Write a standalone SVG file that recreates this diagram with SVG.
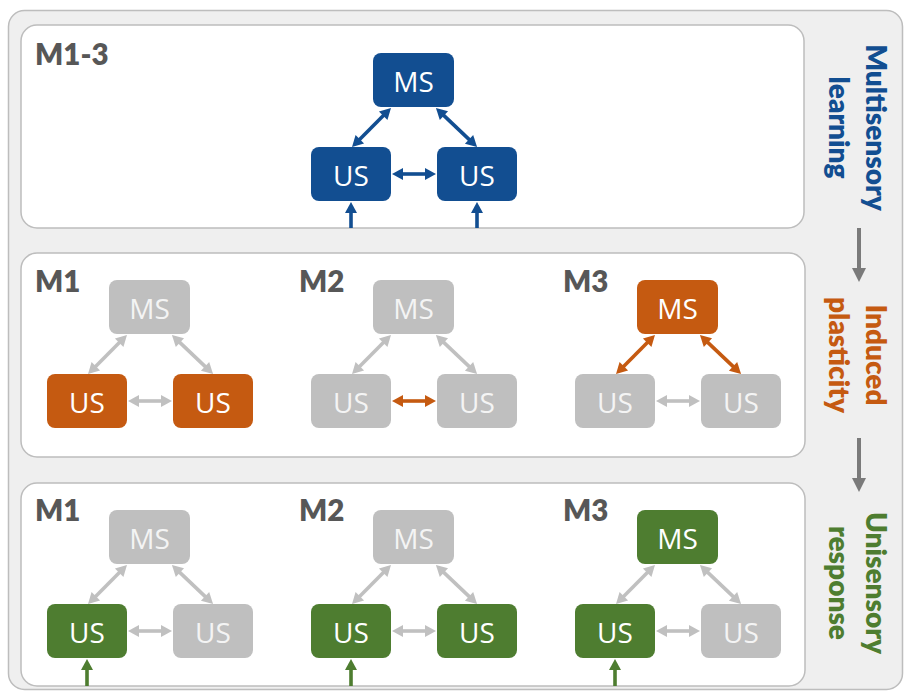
<svg xmlns="http://www.w3.org/2000/svg" width="904" height="693" viewBox="0 0 904 693">
  <defs>
    <style>
      .frame { fill: #efefef; stroke: #bdbdbd; stroke-width: 1.5; }
      .panel { fill: #ffffff; stroke: #bdbdbd; stroke-width: 1.5; }
      .tag { font-family: Lato, "Open Sans", sans-serif; font-weight: 800; font-size: 29.5px; fill: #575757; }
      .side { font-family: Lato, "Open Sans", sans-serif; font-weight: 800; font-size: 28px; text-anchor: middle; }
      .node rect { rx: 8px; ry: 8px; }
      .node text { font-family: "Open Sans", "Liberation Sans", sans-serif; font-size: 28px; fill: #ffffff; text-anchor: middle; }
      .blue rect { fill: #124e91; }
      .orange rect { fill: #c55a11; }
      .green rect { fill: #4e7d30; }
      .gray rect { fill: #bfbfbf; }
      .gray text { fill: #f4f4f4; }
      .link { fill: none; stroke-width: 3.6; stroke-linecap: butt; }
      .lb { stroke: #124e91; marker-start: url(#hb); marker-end: url(#hb); }
      .lo { stroke: #c55a11; marker-start: url(#ho); marker-end: url(#ho); }
      .lg { stroke: #c0c0c0; marker-start: url(#hg); marker-end: url(#hg); }
      .in-b { stroke: #124e91; marker-end: url(#hb); }
      .in-g { stroke: #4e7d30; marker-end: url(#hgr); }
      .step { fill: none; stroke: #7a7a7a; stroke-width: 4; marker-end: url(#hs); }
    </style>
    <marker id="hb" markerUnits="userSpaceOnUse" markerWidth="12" markerHeight="12" refX="1" refY="6" orient="auto-start-reverse" overflow="visible">
      <path d="M0,0 L11,6 L0,12 z" fill="#124e91"/>
    </marker>
    <marker id="ho" markerUnits="userSpaceOnUse" markerWidth="12" markerHeight="12" refX="1" refY="6" orient="auto-start-reverse" overflow="visible">
      <path d="M0,0 L11,6 L0,12 z" fill="#c55a11"/>
    </marker>
    <marker id="hg" markerUnits="userSpaceOnUse" markerWidth="12" markerHeight="12" refX="1" refY="6" orient="auto-start-reverse" overflow="visible">
      <path d="M0,0 L11,6 L0,12 z" fill="#c0c0c0"/>
    </marker>
    <marker id="hgr" markerUnits="userSpaceOnUse" markerWidth="12" markerHeight="12" refX="1" refY="6" orient="auto-start-reverse" overflow="visible">
      <path d="M0,0 L11,6 L0,12 z" fill="#4e7d30"/>
    </marker>
    <marker id="hs" markerUnits="userSpaceOnUse" markerWidth="15" markerHeight="14" refX="1" refY="7" orient="auto" overflow="visible">
      <path d="M0,0 L14,7 L0,14 z" fill="#7a7a7a"/>
    </marker>
  </defs>

  <!-- outer frame and the three stage panels -->
  <rect class="frame" x="8.5" y="10.5" width="894" height="679" rx="16"/>
  <rect class="panel" x="21" y="25" width="783" height="203" rx="16"/>
  <rect class="panel" x="21" y="253" width="784" height="204" rx="16"/>
  <rect class="panel" x="21" y="483" width="784" height="203" rx="16"/>

  <!-- model tags -->
  <text class="tag" x="35" y="65">M1-3</text>
  <text class="tag" x="35" y="292">M1</text>
  <text class="tag" x="299" y="292">M2</text>
  <text class="tag" x="563" y="292">M3</text>
  <text class="tag" x="35" y="521">M1</text>
  <text class="tag" x="299" y="521">M2</text>
  <text class="tag" x="563" y="521">M3</text>

  <!-- stage captions -->
  <text class="side" transform="translate(866,127.5) rotate(90)" fill="#124e91"><tspan x="0" y="0">Multisensory</tspan><tspan x="0" y="37">learning</tspan></text>
  <text class="side" transform="translate(866,355) rotate(90)" fill="#c55a11"><tspan x="0" y="0">Induced</tspan><tspan x="0" y="37">plasticity</tspan></text>
  <text class="side" transform="translate(866,583) rotate(90)" fill="#4e7d30"><tspan x="0" y="0">Unisensory</tspan><tspan x="0" y="37">response</tspan></text>

  <!-- connectors (coordinates local to each triad origin = top-left of left US) -->
  <g id="connectors">
    <g transform="translate(311,147)">
      <line class="link lb" x1="72.9" y1="-31.9" x2="48.1" y2="-7.1"/>
      <line class="link lb" x1="132.2" y1="-32.1" x2="158.8" y2="-6.9"/>
      <line class="link lb" x1="91" y1="27" x2="115" y2="27"/>
      <line class="link in-b" x1="40" y1="81" x2="40" y2="65"/>
      <line class="link in-b" x1="166" y1="81" x2="166" y2="65"/>
    </g>
    <g transform="translate(47,374)">
      <line class="link lg" x1="72.9" y1="-31.9" x2="48.1" y2="-7.1"/>
      <line class="link lg" x1="132.2" y1="-32.1" x2="158.8" y2="-6.9"/>
      <line class="link lg" x1="91" y1="27" x2="115" y2="27"/>
    </g>
    <g transform="translate(311,374)">
      <line class="link lg" x1="72.9" y1="-31.9" x2="48.1" y2="-7.1"/>
      <line class="link lg" x1="132.2" y1="-32.1" x2="158.8" y2="-6.9"/>
      <line class="link lo" x1="91" y1="27" x2="115" y2="27"/>
    </g>
    <g transform="translate(575,374)">
      <line class="link lo" x1="72.9" y1="-31.9" x2="48.1" y2="-7.1"/>
      <line class="link lo" x1="132.2" y1="-32.1" x2="158.8" y2="-6.9"/>
      <line class="link lg" x1="91" y1="27" x2="115" y2="27"/>
    </g>
    <g transform="translate(47,604)">
      <line class="link lg" x1="72.9" y1="-31.9" x2="48.1" y2="-7.1"/>
      <line class="link lg" x1="132.2" y1="-32.1" x2="158.8" y2="-6.9"/>
      <line class="link lg" x1="91" y1="27" x2="115" y2="27"/>
      <line class="link in-g" x1="40" y1="82" x2="40" y2="65"/>
    </g>
    <g transform="translate(311,604)">
      <line class="link lg" x1="72.9" y1="-31.9" x2="48.1" y2="-7.1"/>
      <line class="link lg" x1="132.2" y1="-32.1" x2="158.8" y2="-6.9"/>
      <line class="link lg" x1="91" y1="27" x2="115" y2="27"/>
      <line class="link in-g" x1="40" y1="82" x2="40" y2="65"/>
    </g>
    <g transform="translate(575,604)">
      <line class="link lg" x1="72.9" y1="-31.9" x2="48.1" y2="-7.1"/>
      <line class="link lg" x1="132.2" y1="-32.1" x2="158.8" y2="-6.9"/>
      <line class="link lg" x1="91" y1="27" x2="115" y2="27"/>
      <line class="link in-g" x1="40" y1="82" x2="40" y2="65"/>
    </g>
    <!-- stage-to-stage arrows -->
    <line class="step" x1="859" y1="228" x2="859" y2="269"/>
    <line class="step" x1="859" y1="438" x2="859" y2="479"/>
  </g>

  <!-- stage 1: multisensory learning -->
  <g transform="translate(311,147)">
    <g id="s1-ms" class="node blue"><rect x="62" y="-94" width="81" height="54"/><text x="102.5" y="-55.5">MS</text></g>
    <g id="s1-us-a" class="node blue"><rect x="0" y="0" width="80" height="54"/><text x="40" y="38.5">US</text></g>
    <g id="s1-us-b" class="node blue"><rect x="126" y="0" width="80" height="54"/><text x="166" y="38.5">US</text></g>
  </g>

  <!-- stage 2: induced plasticity -->
  <g transform="translate(47,374)">
    <g id="s2-m1-ms" class="node gray"><rect x="62" y="-94" width="81" height="54"/><text x="102.5" y="-55.5">MS</text></g>
    <g id="s2-m1-us-a" class="node orange"><rect x="0" y="0" width="80" height="54"/><text x="40" y="38.5">US</text></g>
    <g id="s2-m1-us-b" class="node orange"><rect x="126" y="0" width="80" height="54"/><text x="166" y="38.5">US</text></g>
  </g>
  <g transform="translate(311,374)">
    <g id="s2-m2-ms" class="node gray"><rect x="62" y="-94" width="81" height="54"/><text x="102.5" y="-55.5">MS</text></g>
    <g id="s2-m2-us-a" class="node gray"><rect x="0" y="0" width="80" height="54"/><text x="40" y="38.5">US</text></g>
    <g id="s2-m2-us-b" class="node gray"><rect x="126" y="0" width="80" height="54"/><text x="166" y="38.5">US</text></g>
  </g>
  <g transform="translate(575,374)">
    <g id="s2-m3-ms" class="node orange"><rect x="62" y="-94" width="81" height="54"/><text x="102.5" y="-55.5">MS</text></g>
    <g id="s2-m3-us-a" class="node gray"><rect x="0" y="0" width="80" height="54"/><text x="40" y="38.5">US</text></g>
    <g id="s2-m3-us-b" class="node gray"><rect x="126" y="0" width="80" height="54"/><text x="166" y="38.5">US</text></g>
  </g>

  <!-- stage 3: unisensory response -->
  <g transform="translate(47,604)">
    <g id="s3-m1-ms" class="node gray"><rect x="62" y="-94" width="81" height="54"/><text x="102.5" y="-55.5">MS</text></g>
    <g id="s3-m1-us-a" class="node green"><rect x="0" y="0" width="80" height="54"/><text x="40" y="38.5">US</text></g>
    <g id="s3-m1-us-b" class="node gray"><rect x="126" y="0" width="80" height="54"/><text x="166" y="38.5">US</text></g>
  </g>
  <g transform="translate(311,604)">
    <g id="s3-m2-ms" class="node gray"><rect x="62" y="-94" width="81" height="54"/><text x="102.5" y="-55.5">MS</text></g>
    <g id="s3-m2-us-a" class="node green"><rect x="0" y="0" width="80" height="54"/><text x="40" y="38.5">US</text></g>
    <g id="s3-m2-us-b" class="node green"><rect x="126" y="0" width="80" height="54"/><text x="166" y="38.5">US</text></g>
  </g>
  <g transform="translate(575,604)">
    <g id="s3-m3-ms" class="node green"><rect x="62" y="-94" width="81" height="54"/><text x="102.5" y="-55.5">MS</text></g>
    <g id="s3-m3-us-a" class="node green"><rect x="0" y="0" width="80" height="54"/><text x="40" y="38.5">US</text></g>
    <g id="s3-m3-us-b" class="node gray"><rect x="126" y="0" width="80" height="54"/><text x="166" y="38.5">US</text></g>
  </g>
</svg>
